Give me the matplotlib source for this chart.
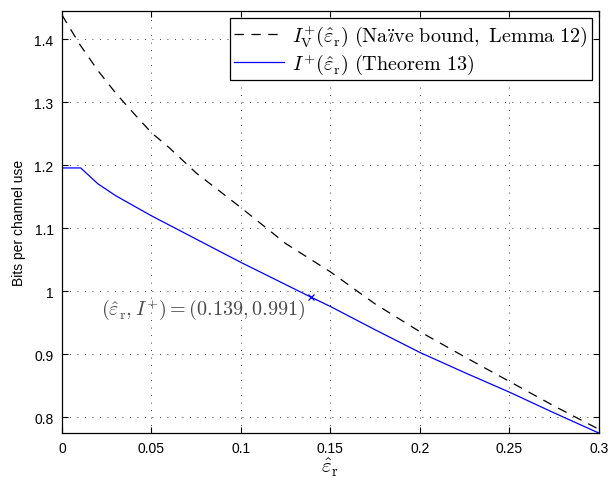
import matplotlib
matplotlib.use("Agg")
import matplotlib.pyplot as plt

# ------------------------------------------------------------
# Data
# ------------------------------------------------------------
# Naive bound (dashed black)
naive_x = [0, 0.01, 0.02, 0.03, 0.04, 0.05, 0.06, 0.075, 0.1, 0.125,
           0.15, 0.175, 0.2, 0.225, 0.25, 0.275, 0.3]
naive_y = [1.439, 1.392, 1.351, 1.315, 1.283, 1.252, 1.228, 1.188, 1.133, 1.076,
           1.031, 0.980, 0.936, 0.896, 0.857, 0.818, 0.781]

# Theorem 13 bound (solid blue)
thm_x = [0, 0.0105, 0.02, 0.03, 0.05, 0.075, 0.1, 0.139, 0.15,
         0.175, 0.2, 0.225, 0.25, 0.275, 0.3]
thm_y = [1.196, 1.196, 1.171, 1.152, 1.120, 1.083, 1.046, 0.991, 0.976,
         0.939, 0.903, 0.871, 0.840, 0.807, 0.775]

# Highlighted point
mark_x = 0.139
mark_y = 0.991

x_ticks = [0, 0.05, 0.1, 0.15, 0.2, 0.25, 0.3]
x_tick_labels = ["0", "0.05", "0.1", "0.15", "0.2", "0.25", "0.3"]
y_ticks = [0.8, 0.9, 1.0, 1.1, 1.2, 1.3, 1.4]
y_tick_labels = ["0.8", "0.9", "1", "1.1", "1.2", "1.3", "1.4"]

label_naive = r"$I_{\rm V}^{+}(\hat{\varepsilon}_{\rm r})\ \mathrm{(Na\ddot{\imath}ve\ bound,\ Lemma\ 12)}$"
label_thm = r"$I^{+}(\hat{\varepsilon}_{\rm r})\ \mathrm{(Theorem\ 13)}$"
note_text = r"$(\hat{\varepsilon}_{\rm r}, I^{+}) = (0.139, 0.991)$"

# ------------------------------------------------------------
# Style
# ------------------------------------------------------------
plt.rcParams["font.family"] = ["Liberation Sans", "DejaVu Sans"]
plt.rcParams["mathtext.fontset"] = "cm"

fig = plt.figure(figsize=(6.13, 4.85), dpi=100)
ax = fig.add_axes([0.101, 0.105, 0.876, 0.870])

ax.plot(naive_x, naive_y, color="black", linewidth=0.9,
        linestyle=(0, (7.5, 6)), label=label_naive)
ax.plot(thm_x, thm_y, color="blue", linewidth=0.9, label=label_thm)
ax.plot([mark_x], [mark_y], marker="x", color="blue", markersize=4,
        markeredgewidth=0.9, linestyle="none")

ax.text(0.079, 0.972, note_text, fontsize=14.5, color="#4a4a4a",
        ha="center", va="center")

ax.set_xlim(0, 0.3)
ax.set_ylim(0.775, 1.445)
ax.set_xticks(x_ticks)
ax.set_xticklabels(x_tick_labels)
ax.set_yticks(y_ticks)
ax.set_yticklabels(y_tick_labels)
ax.tick_params(direction="in", top=True, right=True, length=4,
               width=0.8, labelsize=10, pad=6)

ax.grid(True, color="black", linestyle=(0, (1, 8)), linewidth=0.6)
for spine in ax.spines.values():
    spine.set_linewidth(0.9)

ax.set_xlabel(r"$\hat{\varepsilon}_{\rm r}$", fontsize=15, labelpad=0)
ax.set_ylabel("Bits per channel use", fontsize=10, labelpad=6)

leg = ax.legend(loc="upper right", fontsize=14.5, handlelength=2.5,
                borderaxespad=0.35, fancybox=False, framealpha=1,
                edgecolor="black", labelspacing=0.15, borderpad=0.2,
                handletextpad=0.4)
leg.get_frame().set_linewidth(0.9)

fig.savefig("out.png", dpi=100)
